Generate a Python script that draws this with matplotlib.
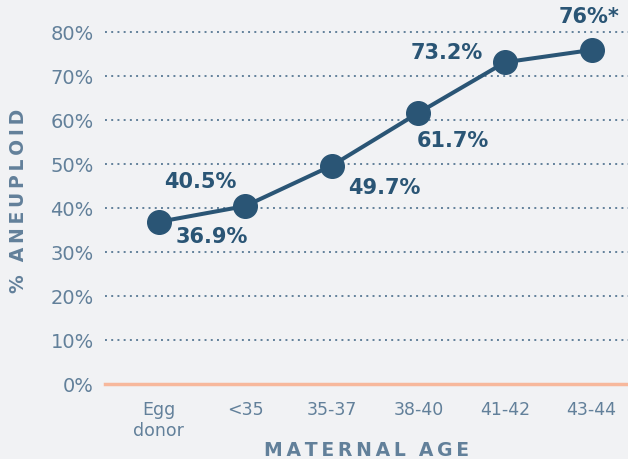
import matplotlib.pyplot as plt

# data
ages = ['Egg\ndonor', '<35', '35-37', '38-40', '41-42', '43-44']
aneuploid = [36.9, 40.5, 49.7, 61.7, 73.2, 76.0]
labels = ['36.9%', '40.5%', '49.7%', '61.7%', '73.2%', '76%*']
yticks = [0, 10, 20, 30, 40, 50, 60, 70, 80]

# label offsets in points (x, y)
offsets = [(38, -11), (-32, 17), (38, -16), (25, -20), (-42, 7), (-2, 24)]

bg = '#f1f2f4'
navy = '#2a5575'
grey = '#62809a'

plt.rcParams['font.family'] = ['DejaVu Sans']

fig = plt.figure(figsize=(6.28, 4.59), dpi=100, facecolor=bg)
ax = fig.add_axes([0.167, 0.163, 0.833, 0.80])
ax.set_facecolor(bg)

x = list(range(len(ages)))
ax.plot(x, aneuploid, color=navy, lw=2.9, marker='o', ms=17, zorder=3, clip_on=False)

for xi, yi, lab, off in zip(x, aneuploid, labels, offsets):
    ax.annotate(lab, (xi, yi), xytext=off, textcoords='offset points',
                ha='center', va='center', fontsize=15, fontweight='bold',
                color=navy, annotation_clip=False)

ax.set_xlim(-0.62, 5.42)
ax.set_ylim(0, 83.5)
ax.set_xticks(x)
ax.set_xticklabels(ages, fontsize=12.5, color=grey, linespacing=1.2)
ax.set_yticks(yticks)
ax.set_yticklabels([f'{t}%' for t in yticks], fontsize=14, color=grey)
ax.tick_params(length=0)
ax.tick_params(axis='y', pad=8)
ax.tick_params(axis='x', pad=12)

for t in yticks[1:]:
    ax.axhline(t, color=grey, lw=1.4, ls=(0, (1, 2.2)), zorder=1)
ax.axhline(0, color='#f7b89c', lw=2.5, zorder=2, clip_on=False)

for s in ax.spines.values():
    s.set_visible(False)

sp = '\u2009'
fig.text(0.583, 0.018, sp.join('MATERNAL') + '  ' + sp.join('AGE'), fontsize=13.5,
         fontweight='bold', color=grey, ha='center', va='center')
ax.set_ylabel('%  ' + sp.join('ANEUPLOID'), fontsize=13.5, fontweight='bold',
              color=grey, labelpad=16)

fig.savefig('out.png', dpi=100, facecolor=bg)
